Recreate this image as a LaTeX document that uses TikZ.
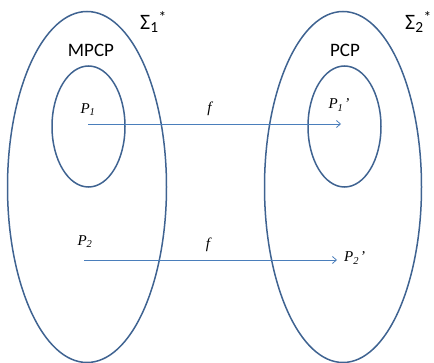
\documentclass[tikz,border=0pt]{standalone}
\usepackage{fontspec}
\setmainfont{Liberation Serif}
\newfontfamily\calib{Carlito}
\usepackage{xcolor}
\usetikzlibrary{arrows.meta,positioning,shapes.geometric}
\definecolor{ring}{HTML}{3F6391}
\definecolor{mapc}{HTML}{4A7EBB}
\tikzset{
  oval/.style  ={draw=ring, ellipse, line width=1.5pt, inner sep=0pt},
  setlbl/.style={font=\calib\fontsize{19}{19}\selectfont, inner sep=0pt},
  sigl/.style  ={font=\calib\fontsize{22}{22}\selectfont, inner sep=0pt, anchor=west},
  elt/.style   ={font=\itshape\fontsize{15}{15}\selectfont, inner sep=0pt},
  map/.style   ={-{Straight Barb[length=4pt,width=7pt]}, draw=mapc, line width=0.8pt},
}

\begin{document}
\begin{tikzpicture}[x=1pt,y=-1pt]
\useasboundingbox (0,0) rectangle (434,363);
% the two alphabets and the two problems
\node[oval, minimum width=159pt, minimum height=351pt] (sig1) at (87,187) {};
\node[oval, minimum width=157pt, minimum height=351pt] (sig2) at (343,187) {};
\node[oval, minimum width=73pt, minimum height=121pt] (mpcp) at (88.5,126.5) {};
\node[oval, minimum width=73pt, minimum height=121pt] (pcp) at (344.5,126.5) {};
\node[sigl] (s1) at (140,22) {Σ\textsubscript{1}\textsuperscript{*}};
\node[sigl] (s2) at (405,22) {Σ\textsubscript{2}\textsuperscript{*}};
\node[setlbl] (mpcpl) at (91,50) {MPCP};
\node[setlbl] (pcpl) at (345,50) {PCP};
% instances
\coordinate (a1) at (88,124);
\coordinate (b1) at (341,124);
\coordinate (a2) at (84,260);
\coordinate (b2) at (337,260);
\node[elt] (p1) at (88,110) {P\textsubscript{1}};
\node[elt] (q1) at (339,105) {P\textsubscript{1}\kern1pt'};
\node[elt] (p2) at (85,242) {P\textsubscript{2}};
\node[elt, anchor=west] (q2) at (344,258) {P\textsubscript{2}\kern1pt'};
\draw[map] (a1) -- (b1) node[elt, pos=0.48, above=8pt] (f1) {f};
\draw[map] (a2) -- (b2) node[elt, pos=0.49, above=8pt] (f2) {f};
\end{tikzpicture}
\end{document}
